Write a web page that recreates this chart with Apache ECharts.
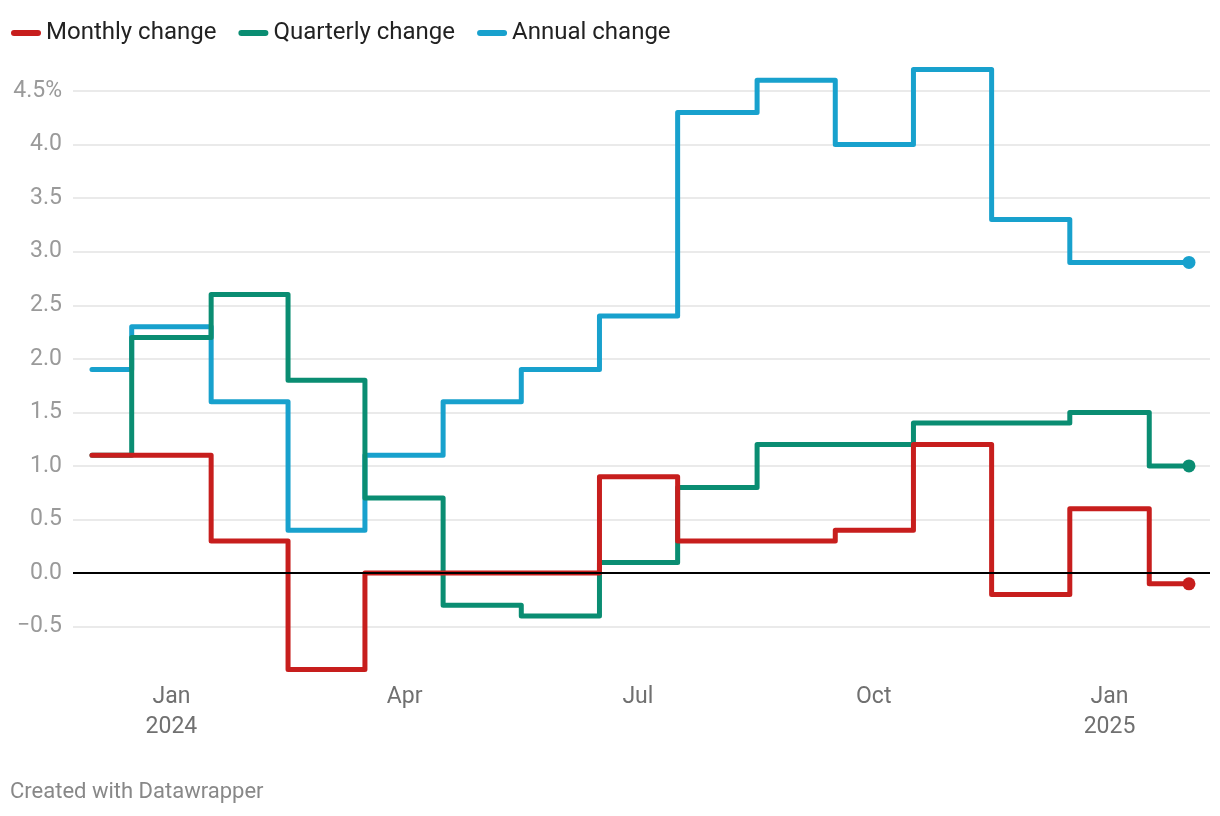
<!DOCTYPE html>
<html>
<head>
<meta charset="utf-8">
<script src="https://cdn.jsdelivr.net/npm/echarts@6/dist/echarts.min.js"></script>
<style>
html,body{margin:0;padding:0;background:#fff;}
#chart{width:1220px;height:816px;}
</style>
</head>
<body>
<div id="chart"></div>
<script>
// ---- data ----
const months = ['2023-12','2024-01','2024-02','2024-03','2024-04','2024-05','2024-06','2024-07','2024-08','2024-09','2024-10','2024-11','2024-12','2025-01','2025-02'];
const monthly   = [1.1, 1.1, 0.3, -0.9, 0.0, 0.0, 0.0, 0.9, 0.3, 0.3, 0.4, 1.2, -0.2, 0.6, -0.1];
const quarterly = [1.1, 2.2, 2.6, 1.8, 0.7, -0.3, -0.4, 0.1, 0.8, 1.2, 1.2, 1.4, 1.4, 1.5, 1.0];
const annual    = [1.9, 2.3, 1.6, 0.4, 1.1, 1.6, 1.9, 2.4, 4.3, 4.6, 4.0, 4.7, 3.3, 2.9, 2.9];
const seriesNames = ['Monthly change', 'Quarterly change', 'Annual change'];
const xTickDates = ['2024-01','2024-04','2024-07','2024-10','2025-01'];
const xTickLabels = ['Jan\n2024', 'Apr', 'Jul', 'Oct', 'Jan\n2025'];
const yTicks = [-0.5, 0, 0.5, 1.0, 1.5, 2.0, 2.5, 3.0, 3.5, 4.0, 4.5];
const yTickLabels = ['\u22120.5', '0.0', '0.5', '1.0', '1.5', '2.0', '2.5', '3.0', '3.5', '4.0', '4.5%'];

// ---- helpers ----
const DAY = 86400000;
function ts(m){ const [y, mo] = m.split('-').map(Number); return Date.UTC(y, mo - 1, 1); }
function build(vals){
  return vals.map((v, i) => {
    const item = { value: [ts(months[i]), v] };
    if (i === vals.length - 1) { item.symbol = 'circle'; item.symbolSize = 13; }
    return item;
  });
}
const colors = ['#c71e1d', '#0a8d72', '#18a1cd'];
const xTickTs = xTickDates.map(ts);

const chart = echarts.init(document.getElementById('chart'));
function lineSeries(idx, vals, z){
  return {
    name: seriesNames[idx],
    type: 'line',
    step: 'middle',
    data: build(vals),
    symbol: 'none',
    showSymbol: true,
    z: z,
    color: colors[idx],
    itemStyle: { color: colors[idx] },
    lineStyle: { width: 5, color: colors[idx], join: 'round', cap: 'round' },
    emphasis: { disabled: true },
    animation: false
  };
}
function carrier(name, z, ticks, style){
  return {
    name: name,
    type: 'line',
    z: z,
    data: [[ts(months[0]), 0]],
    symbol: 'none',
    lineStyle: { opacity: 0 },
    silent: true,
    animation: false,
    markLine: {
      z: z,
      silent: true, symbol: 'none', label: { show: false }, animation: false,
      lineStyle: style,
      data: ticks.map(v => ({ yAxis: v }))
    }
  };
}
const gridSeries = carrier('_grid', 1, yTicks.filter(v => v !== 0), { color: '#e3e3e3', width: 1.5, type: 'solid' });
const zeroSeries = carrier('_zero', 20, [0], { color: '#000', width: 2, type: 'solid' });

chart.setOption({
  animation: false,
  textStyle: { fontFamily: 'Roboto' },
  legend: {
    left: 6, top: 16, itemGap: 22, itemWidth: 30, itemHeight: 6,
    icon: 'path://M3,0 H27 A3,3 0 0 1 27,6 H3 A3,3 0 0 1 3,0 Z',
    textStyle: { fontSize: 24, color: '#222', fontFamily: 'Roboto' },
    data: seriesNames,
    selectedMode: false
  },
  graphic: [{
    type: 'text', left: 10, top: 781,
    style: { text: 'Created with Datawrapper', fontSize: 22, fill: '#888', fontFamily: 'Roboto' }
  }],
  grid: { left: 73, right: 10, top: 69.6, bottom: 146.5, containLabel: false, outerBoundsMode: 'none' },
  xAxis: {
    type: 'value',
    min: ts(months[0]) - 7.4 * DAY,
    max: ts(months[months.length - 1]) + 8.2 * DAY,
    axisLine: { show: false },
    axisTick: { show: false },
    splitLine: { show: false },
    axisLabel: {
      customValues: xTickTs,
      margin: 13,
      fontSize: 23,
      color: '#707070',
      lineHeight: 30,
      fontFamily: 'Roboto',
      formatter: function (v) {
        const i = xTickTs.indexOf(v);
        return i >= 0 ? xTickLabels[i] : '';
      }
    }
  },
  yAxis: {
    type: 'value',
    min: -0.9, max: 4.7,
    axisLine: { show: false },
    axisTick: { show: false },
    splitLine: { show: false },
    axisLabel: {
      customValues: yTicks,
      margin: 11, fontSize: 23, color: '#9a9a9a', fontFamily: 'Roboto',
      formatter: function (v) {
        let best = 0;
        yTicks.forEach((t, i) => { if (Math.abs(t - v) < Math.abs(yTicks[best] - v)) best = i; });
        return yTickLabels[best];
      }
    }
  },
  series: [gridSeries, lineSeries(0, monthly, 10), lineSeries(1, quarterly, 9), lineSeries(2, annual, 8), zeroSeries]
});
</script>
</body>
</html>
